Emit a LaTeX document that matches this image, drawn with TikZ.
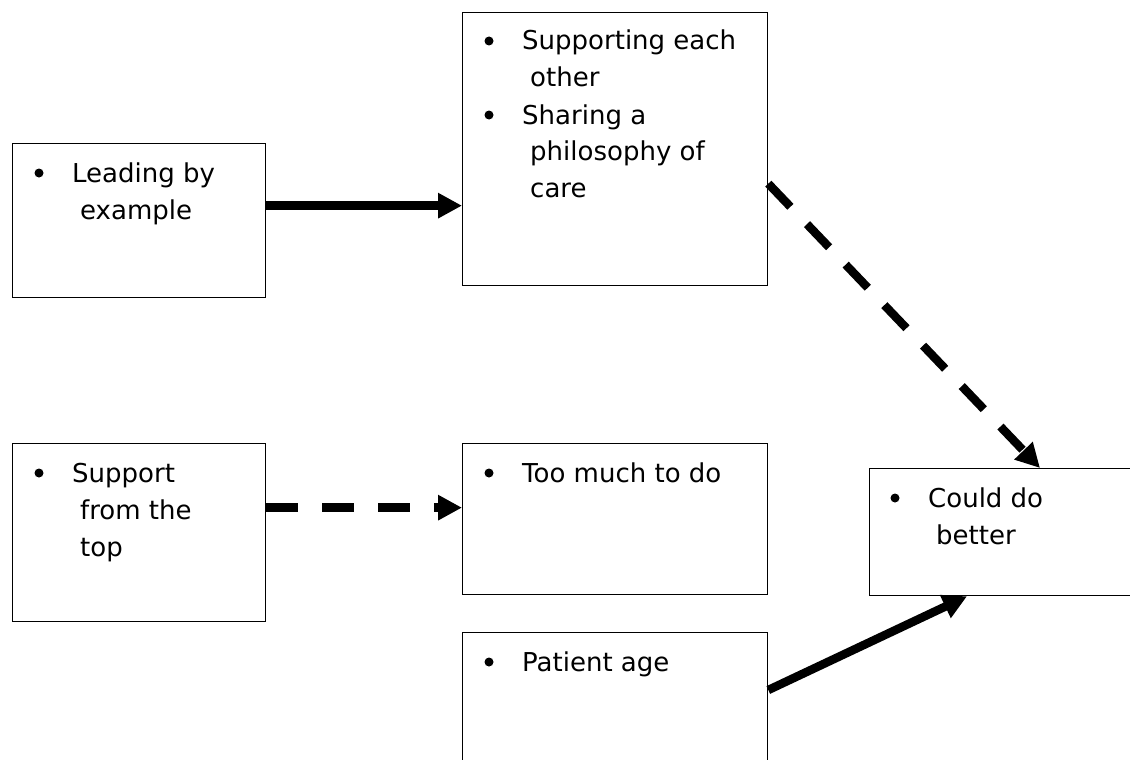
\documentclass[tikz,border=0pt]{standalone}
\usepackage{fontspec}
\setmainfont{DejaVu Sans}
\usetikzlibrary{arrows.meta}

\begin{document}
\begin{tikzpicture}[x=1pt,y=-1pt,
  box/.style={draw=black, line width=1.3pt, rectangle, anchor=north west, inner sep=0pt},
  label/.style={anchor=base west, inner sep=0pt, font=\fontsize{26}{37}\selectfont},
  solidarrow/.style={line width=8.5pt, -{Triangle[length=24pt,width=24pt]}},
  dasharrow/.style={solidarrow, dash pattern=on 32pt off 24pt},
  bulletdot/.style={fill=black}
]
\useasboundingbox (0,0) rectangle (1130,760);

% boxes
\node[box, minimum width=253pt, minimum height=154pt] (A) at (12,143) {};
\node[box, minimum width=305pt, minimum height=273pt] (B) at (462,12) {};
\node[box, minimum width=253pt, minimum height=178pt] (C) at (12,443) {};
\node[box, minimum width=305pt, minimum height=151pt] (D) at (462,443) {};
\node[box, minimum width=305pt, minimum height=160pt] (E) at (462,632) {};
\node[box, minimum width=275pt, minimum height=127pt] (F) at (869,468) {};

% box texts
\newcommand{\cont}{\hspace*{8pt}}
\node[label] (tA) at ([shift={(60pt,-39pt)}]A.north west)
  {\begin{tabular}[t]{@{}l@{}}Leading by\\ \cont example\end{tabular}};
\node[label] (tB) at ([shift={(60pt,-38pt)}]B.north west)
  {\begin{tabular}[t]{@{}l@{}}Supporting each\\ \cont other\\ Sharing a\\ \cont philosophy of\\ \cont care\end{tabular}};
\node[label] (tC) at ([shift={(60pt,-39pt)}]C.north west)
  {\begin{tabular}[t]{@{}l@{}}Support\\ \cont from the\\ \cont top\end{tabular}};
\node[label] (tD) at ([shift={(60pt,-39pt)}]D.north west) {Too much to do};
\node[label] (tE) at ([shift={(60pt,-39pt)}]E.north west) {Patient age};
\node[label] (tF) at ([shift={(59pt,-39pt)}]F.north west)
  {\begin{tabular}[t]{@{}l@{}}Could do\\ \cont better\end{tabular}};

% bullets
\fill[bulletdot] ([shift={(27pt,-30pt)}]A.north west) circle (4.5);
\fill[bulletdot] ([shift={(27pt,-29pt)}]B.north west) circle (4.5);
\fill[bulletdot] ([shift={(27pt,-103pt)}]B.north west) circle (4.5);
\fill[bulletdot] ([shift={(27pt,-30pt)}]C.north west) circle (4.5);
\fill[bulletdot] ([shift={(27pt,-30pt)}]D.north west) circle (4.5);
\fill[bulletdot] ([shift={(27pt,-30pt)}]E.north west) circle (4.5);
\fill[bulletdot] ([shift={(26pt,-30pt)}]F.north west) circle (4.5);

% connectors
\draw[solidarrow] ([yshift=15pt]A.east) -- ([yshift=15pt]A.east -| B.west);
\draw[dasharrow] ([yshift=25pt]C.east) -- ([yshift=25pt]C.east -| D.west);
\draw[dasharrow] ([yshift=-34.5pt]B.east) -- ([xshift=171pt]F.north west);
\draw[solidarrow] ([yshift=-58pt]E.north east) -- ([xshift=98pt]F.south west);
\end{tikzpicture}
\end{document}
